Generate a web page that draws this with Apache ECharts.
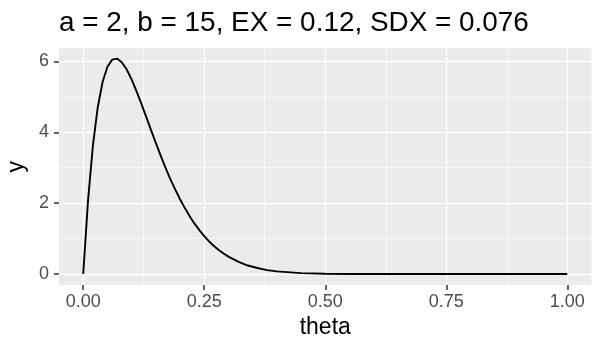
<!DOCTYPE html>
<html>
<head>
<meta charset="utf-8">
<script src="https://cdn.jsdelivr.net/npm/echarts@6/dist/echarts.min.js"></script>
<style>
  html, body { margin: 0; padding: 0; background: #fff; }
  #chart { width: 595px; height: 344px; }
</style>
</head>
<body>
<div id="chart"></div>
<script>
// values
const theta = [0, 0.01, 0.02, 0.03, 0.04, 0.05, 0.06, 0.07, 0.08, 0.09, 0.1,
  0.11, 0.12, 0.13, 0.14, 0.15, 0.16, 0.17, 0.18, 0.19, 0.2,
  0.21, 0.22, 0.23, 0.24, 0.25, 0.26, 0.27, 0.28, 0.29, 0.3,
  0.32, 0.34, 0.36, 0.38, 0.4, 0.45, 0.5, 0.55, 0.6, 0.65, 0.7,
  0.75, 0.8, 0.85, 0.9, 0.95, 1]
const density = [0, 2.08, 3.62, 4.7, 5.42, 5.85, 6.05, 6.08, 5.97, 5.77, 5.49,
  5.16, 4.81, 4.44, 4.07, 3.7, 3.34, 3.0, 2.68, 2.39, 2.11,
  1.86, 1.63, 1.42, 1.24, 1.07, 0.92, 0.79, 0.68, 0.58, 0.49,
  0.35, 0.24, 0.17, 0.11, 0.075, 0.025, 0.007, 0.002, 0, 0, 0,
  0, 0, 0, 0, 0, 0]
const xTicks = [0, 0.25, 0.5, 0.75, 1]
const xMinor = [0.125, 0.375, 0.625, 0.875]
const yTicks = [0, 2, 4, 6]
const yMinor = [1, 3, 5]

const font = 'Liberation Sans, Arial, sans-serif'
const chart = echarts.init(document.getElementById('chart'))

const hidden = { show: false, onZero: false }
const mainAxis = (ticks) => ({
    axisLine: hidden,
    axisTick: { show: true, length: 5, customValues: ticks, lineStyle: { color: '#333333', width: 1.5 } },
    splitLine: { show: true, lineStyle: { color: '#ffffff', width: 1.3 } }
})
const minorAxis = (ticks) => ({
    axisLine: hidden,
    axisTick: { show: false, customValues: ticks },
    axisLabel: { show: false, customValues: ticks },
    splitLine: { show: true, lineStyle: { color: '#ffffff', width: 0.6 } }
})

chart.setOption({
    animation: false,
    title: {
        text: 'a = 2, b = 15, EX = 0.12, SDX = 0.076',
        left: 54,
        top: 4,
        textStyle: { fontSize: 27.9, fontWeight: 'normal', color: '#000', fontFamily: font }
    },
    grid: {
        left: 59, right: 3.5, top: 48.3, bottom: 59,
        show: true, backgroundColor: '#EBEBEB', borderWidth: 0,
        containLabel: false, outerBoundsMode: 'none'
    },
    xAxis: [
        Object.assign({
            type: 'value', min: -0.05, max: 1.05,
            name: 'theta', nameLocation: 'middle', nameGap: 31,
            nameTextStyle: { fontSize: 23, color: '#000', fontFamily: font }
        }, mainAxis(xTicks), {
            axisLabel: { customValues: xTicks, color: '#4D4D4D', fontSize: 18, fontFamily: font, margin: 8,
                formatter: v => v.toFixed(2) }
        }),
        Object.assign({ type: 'value', min: -0.05, max: 1.05, position: 'top' }, minorAxis(xMinor))
    ],
    yAxis: [
        Object.assign({
            type: 'value', min: -0.31, max: 6.37,
            name: 'y', nameLocation: 'middle', nameGap: 24, nameRotate: 90,
            nameTextStyle: { fontSize: 23, color: '#000', fontFamily: font }
        }, mainAxis(yTicks), {
            axisLabel: { customValues: yTicks, color: '#4D4D4D', fontSize: 18, fontFamily: font, margin: 10 }
        }),
        Object.assign({ type: 'value', min: -0.31, max: 6.37, position: 'right' }, minorAxis(yMinor))
    ],
    series: [{
        type: 'line',
        data: theta.map((t, i) => [t, density[i]]),
        showSymbol: false,
        lineStyle: { color: '#000', width: 1.9 },
        z: 5
    }]
})
</script>
</body>
</html>
